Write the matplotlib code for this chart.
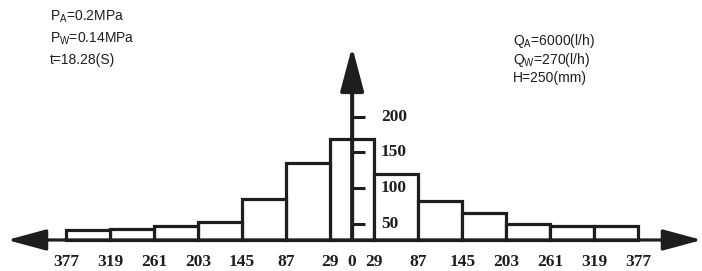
"""
Symmetric histogram of spray distribution, redrawn with matplotlib.
"""

import matplotlib.pyplot as plt

plt.rcParams['mathtext.fontset'] = 'custom'
plt.rcParams['mathtext.rm'] = 'Liberation Sans'

# bin edges (distance from centre, same on both sides)
edges = [29, 87, 145, 203, 261, 319, 377]
# bar heights, centre bar then outward
centre_height = 168
left_heights = [135, 84, 52, 47, 43, 41]    # 29-87, 87-145, ... 319-377 (left side)
right_heights = [119, 81, 65, 50, 47, 46]   # same bins on the right side
y_ticks = [50, 100, 150, 200]
base = 27   # value at the horizontal axis

left_notes = ['P$_\\mathrm{A}$=0.2MPa', 'P$_\\mathrm{W}$=0.14MPa', 't=18.28(S)']
right_notes = ['Q$_\\mathrm{A}$=6000(l/h)', 'Q$_\\mathrm{W}$=270(l/h)', 'H=250(mm)']

ink = '#1e1e1e'
serif = dict(family='Liberation Serif', fontweight='bold', fontsize=12.5, color=ink)
sans = dict(family='Liberation Sans', fontsize=10, color=ink)

fig = plt.figure(figsize=(7.02, 2.71), dpi=100)
ax = fig.add_axes([0, 0, 1, 1])
ax.set_xlim(-464, 461)
ax.set_ylim(-16.5, 363.6)
ax.axis('off')

# bars
bw = 58
ax.bar(0, centre_height - base, width=bw, bottom=base, color='white',
       edgecolor=ink, linewidth=2.3, zorder=2)
for i in range(len(left_heights)):
    mid = (edges[i] + edges[i + 1]) / 2
    ax.bar(-mid, left_heights[i] - base, width=bw, bottom=base, color='white',
           edgecolor=ink, linewidth=2.3, zorder=2)
    ax.bar(mid, right_heights[i] - base, width=bw, bottom=base, color='white',
           edgecolor=ink, linewidth=2.3, zorder=2)

# horizontal double arrow
ax.annotate('', xy=(460.7, base), xytext=(-454.5, base),
            arrowprops=dict(arrowstyle='<|-|>,head_length=24,head_width=6.5',
                            mutation_scale=1, color=ink, lw=2.3,
                            shrinkA=0, shrinkB=0), zorder=3)
# vertical arrow
ax.annotate('', xy=(0, 298), xytext=(0, base),
            arrowprops=dict(arrowstyle='-|>,head_length=27,head_width=7.2',
                            mutation_scale=1, color=ink, lw=2.9,
                            shrinkA=0, shrinkB=0), zorder=3)

# y ticks and labels
for t in y_ticks:
    ax.plot([0, 17], [t, t], color=ink, lw=2.2, zorder=3, solid_capstyle='butt')
    ax.text(38, t, str(t), ha='left', va='center', **serif)

# x labels
ax.text(0, -3.4, '0', ha='center', va='center', **serif)
for e in edges:
    ax.text(-e, -3.4, str(e), ha='center', va='center', **serif)
    ax.text(e, -3.4, str(e), ha='center', va='center', **serif)

# condition notes
for i, s in enumerate(left_notes):
    fig.text(50 / 702, 1 - (20.7 + 21.7 * i) / 271, s, ha='left', va='baseline', **sans)
for i, s in enumerate(right_notes):
    fig.text(513 / 702, 1 - (45 + 18.7 * i) / 271, s, ha='left', va='baseline', **sans)

fig.savefig('out.png', dpi=100)
